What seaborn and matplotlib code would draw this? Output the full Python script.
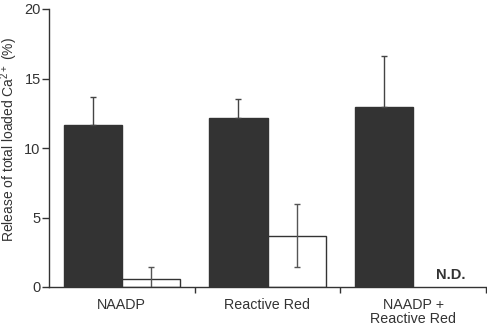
import matplotlib
matplotlib.use("Agg")
import matplotlib.pyplot as plt
import seaborn as sns
import numpy as np
import pandas as pd

categories = ["NAADP", "Reactive Red", "NAADP +\nReactive Red"]
conditions = ["first", "second"]
first_values = [11.65, 12.18, 12.97]
first_errors = [2.05, 1.37, 3.65]
second_values = [0.55, 3.69, np.nan]
second_errors = [0.9, 2.25, np.nan]

df = pd.DataFrame({
    "category": categories * 2,
    "condition": [conditions[0]] * 3 + [conditions[1]] * 3,
    "value": first_values + second_values,
})

sns.set_theme(style="ticks")
plt.rcParams["font.family"] = ["Liberation Sans", "DejaVu Sans"]
plt.rcParams["mathtext.fontset"] = "custom"
plt.rcParams["mathtext.rm"] = "Liberation Sans"
plt.rcParams["mathtext.it"] = "Liberation Sans"
plt.rcParams["mathtext.bf"] = "Liberation Sans:bold"
text_color = "#333333"

fig = plt.figure(figsize=(4.87, 3.25), dpi=100)
ax = fig.add_axes([49 / 487, 38 / 325, 437 / 487, 278 / 325])

sns.barplot(data=df, x="category", y="value", hue="condition",
            order=categories, hue_order=conditions,
            palette={"first": "#333333", "second": "#ffffff"},
            width=0.8, errorbar=None, legend=False, ax=ax,
            edgecolor="#333333", linewidth=1.0)

# error bars using the bar positions from the library
bars = [p for p in ax.patches if p.get_height() == p.get_height() and p.get_width() > 0]
dark = sorted([p for p in bars if p.get_facecolor()[0] < 0.5], key=lambda p: p.get_x())
light = sorted([p for p in bars if p.get_facecolor()[0] >= 0.5], key=lambda p: p.get_x())
for p, v, e in zip(dark, first_values, first_errors):
    xc = p.get_x() + p.get_width() / 2
    ax.errorbar(xc, v, yerr=[[0], [e]], color="#444444", capsize=2.5, elinewidth=1.0,
                capthick=1.0, fmt="none")
for p, v, e in zip(light, second_values, second_errors):
    if np.isnan(v):
        continue
    xc = p.get_x() + p.get_width() / 2
    ax.errorbar(xc, v, yerr=e, color="#555555", capsize=2.5, elinewidth=1.0,
                capthick=1.0, fmt="none")

ax.text(2.26, 0.35, "N.D.", fontsize=10.5, fontweight="bold", color=text_color,
        ha="center", va="bottom")

ax.set_xlim(-0.5, 2.5)
ax.set_ylim(0, 20)
ax.set_yticks([0, 5, 10, 15, 20])
ax.set_xticks([0, 1, 2])
ax.set_xticklabels(categories, fontsize=10.3, color=text_color, linespacing=1.0)
ax.set_xticks([0.5, 1.5, 2.5], minor=True)
ax.tick_params(axis="x", which="major", length=0, pad=8)
ax.tick_params(axis="x", which="minor", length=4, width=1, color=text_color, direction="out")
ax.tick_params(axis="y", length=5, width=1, color=text_color, labelsize=10.5,
               labelcolor=text_color, pad=1)
ax.set_xlabel("")
ax.set_ylabel("Release of total loaded Ca$^{2+}$ (%)", fontsize=10, color=text_color)
ax.yaxis.set_label_coords(-0.066, 0.53)
sns.despine(ax=ax)
for s in ["left", "bottom"]:
    ax.spines[s].set_color(text_color)
    ax.spines[s].set_linewidth(1.0)

fig.savefig("out.png", dpi=100)
